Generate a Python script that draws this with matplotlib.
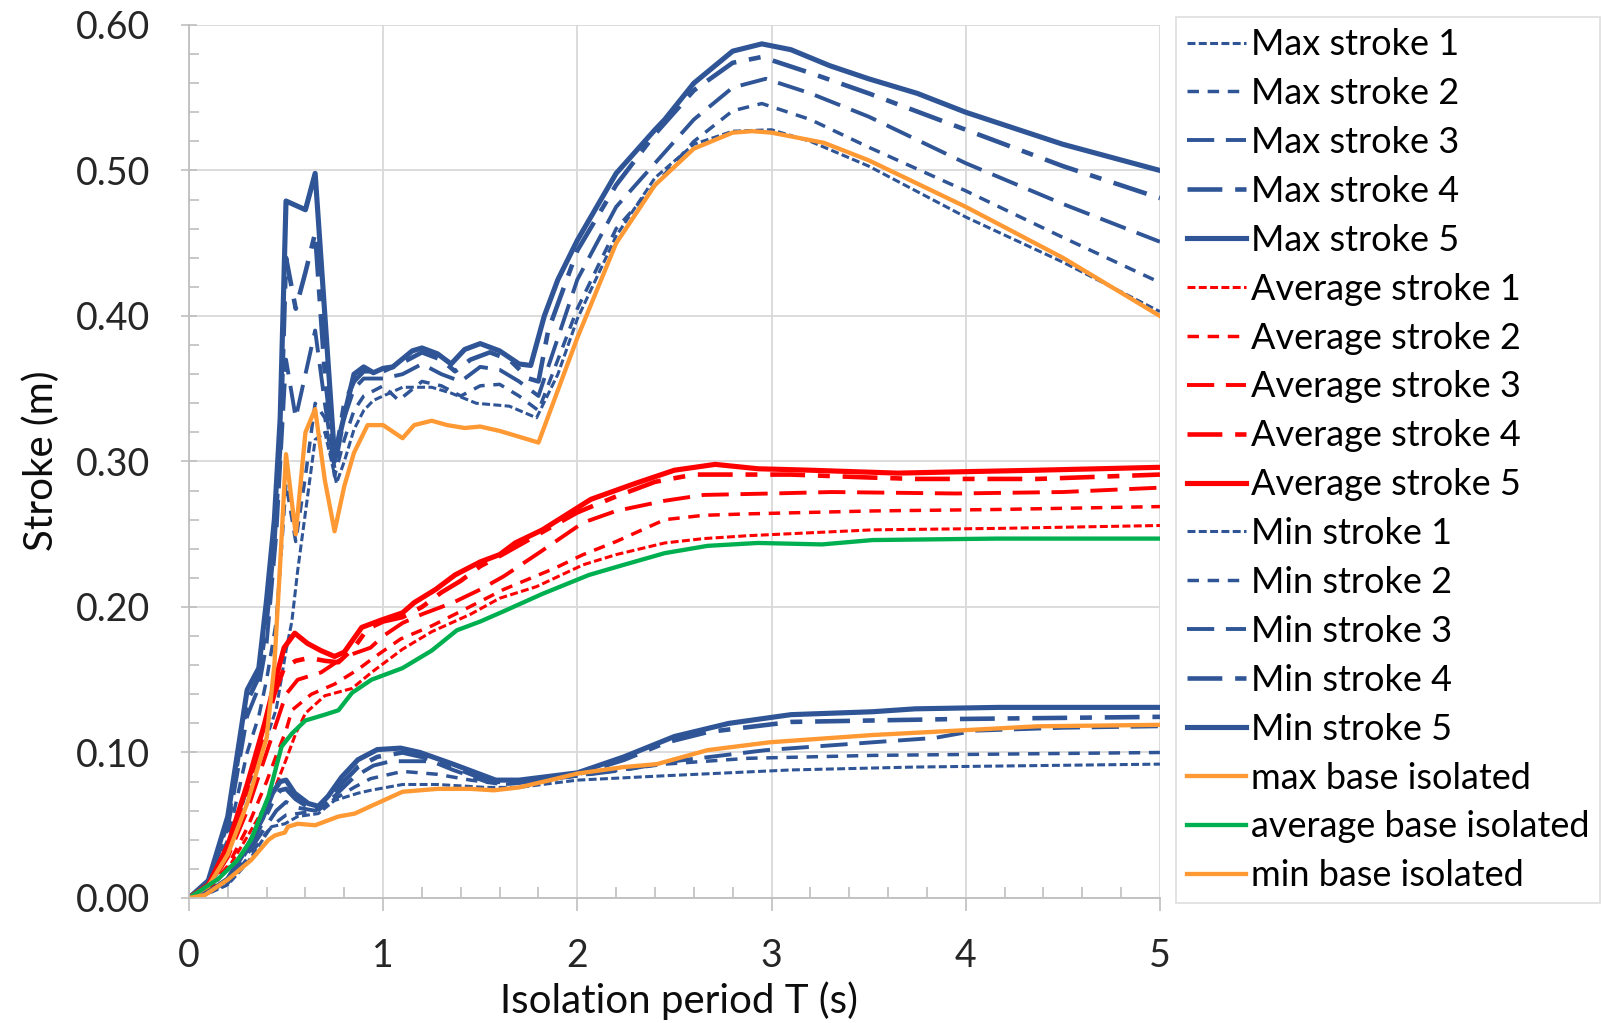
import matplotlib
matplotlib.use("Agg")
import matplotlib.pyplot as plt
from matplotlib.ticker import MultipleLocator, FormatStrFormatter

plt.rcParams["font.family"] = ["Lato", "DejaVu Sans"]

BLUE = "#2F5597"
RED = "#FF0000"
ORANGE = "#FF9933"
GREEN = "#00B050"

# ---- stroke envelopes, max ----
max1_T = [0, 0.1, 0.2, 0.3, 0.4, 0.45, 0.5, 0.53, 0.56, 0.6, 0.65, 0.7, 0.76, 0.8, 0.85, 0.9, 0.95, 1.0,
          1.1, 1.25, 1.35, 1.48, 1.65, 1.79, 1.9, 2.0, 2.2, 2.4, 2.6, 2.8, 3.0, 3.2, 3.5, 4.0, 4.5, 5.0]
max1 = [0, 0.006, 0.03, 0.075, 0.11, 0.13, 0.17, 0.19, 0.225, 0.265, 0.315, 0.32, 0.285, 0.30, 0.322, 0.335,
        0.342, 0.345, 0.351, 0.351, 0.347, 0.34, 0.338, 0.330, 0.36, 0.398, 0.455, 0.495, 0.518, 0.527, 0.528,
        0.52, 0.503, 0.468, 0.437, 0.403]

max2_T = [0, 0.1, 0.2, 0.3, 0.36, 0.4, 0.45, 0.5, 0.55, 0.6, 0.65, 0.7, 0.75, 0.8, 0.85, 0.9, 1.0, 1.08, 1.2,
          1.3, 1.4, 1.5, 1.6, 1.7, 1.8, 1.9, 2.0, 2.2, 2.4, 2.6, 2.8, 2.95, 3.2, 3.5, 4.0, 4.5, 5.0]
max2 = [0, 0.008, 0.04, 0.1, 0.125, 0.15, 0.19, 0.285, 0.245, 0.29, 0.34, 0.33, 0.29, 0.315, 0.335, 0.345,
        0.352, 0.342, 0.355, 0.352, 0.345, 0.352, 0.353, 0.345, 0.335, 0.37, 0.405, 0.46, 0.49, 0.52, 0.541,
        0.546, 0.535, 0.516, 0.486, 0.454, 0.423]

max3_T = [0, 0.1, 0.2, 0.3, 0.36, 0.40, 0.45, 0.5, 0.55, 0.6, 0.65, 0.7, 0.75, 0.8, 0.85, 0.9, 1.0, 1.1, 1.2,
          1.3, 1.4, 1.5, 1.6, 1.7, 1.8, 1.9, 2.0, 2.2, 2.4, 2.6, 2.8, 2.97, 3.2, 3.5, 4.0, 4.5, 5.0]
max3 = [0, 0.01, 0.048, 0.125, 0.145, 0.175, 0.25, 0.37, 0.33, 0.36, 0.39, 0.34, 0.295, 0.33, 0.35, 0.357,
        0.357, 0.36, 0.367, 0.36, 0.355, 0.365, 0.363, 0.355, 0.345, 0.385, 0.425, 0.475, 0.505, 0.535, 0.557,
        0.563, 0.553, 0.537, 0.505, 0.477, 0.451]

max4_T = [0, 0.1, 0.2, 0.3, 0.36, 0.40, 0.44, 0.47, 0.5, 0.55, 0.6, 0.65, 0.7, 0.75, 0.8, 0.85, 0.9, 1.0, 1.1,
          1.2, 1.3, 1.37, 1.45, 1.55, 1.65, 1.75, 1.8, 1.85, 2.0, 2.2, 2.4, 2.6, 2.8, 2.95, 3.2, 3.5, 4.0, 4.5, 5.0]
max4 = [0, 0.011, 0.052, 0.135, 0.152, 0.19, 0.245, 0.31, 0.44, 0.405, 0.43, 0.457, 0.36, 0.30, 0.34, 0.355,
        0.362, 0.362, 0.368, 0.375, 0.37, 0.362, 0.37, 0.375, 0.37, 0.357, 0.355, 0.39, 0.445, 0.49, 0.525,
        0.555, 0.574, 0.578, 0.567, 0.553, 0.528, 0.503, 0.481]

max5_T = [0, 0.1, 0.2, 0.3, 0.36, 0.40, 0.44, 0.47, 0.5, 0.6, 0.65, 0.75, 0.85, 0.9, 0.95, 1.0, 1.05, 1.15,
          1.2, 1.28, 1.35, 1.42, 1.5, 1.6, 1.7, 1.76, 1.83, 1.9, 2.0, 2.2, 2.4, 2.45, 2.6, 2.8, 2.95, 3.1, 3.3,
          3.5, 3.75, 4.0, 4.5, 5.0]
max5 = [0, 0.012, 0.056, 0.143, 0.158, 0.205, 0.26, 0.33, 0.479, 0.473, 0.498, 0.303, 0.36, 0.365, 0.361,
        0.364, 0.365, 0.376, 0.378, 0.374, 0.367, 0.377, 0.381, 0.376, 0.367, 0.366, 0.40, 0.425, 0.452, 0.498,
        0.528, 0.535, 0.560, 0.582, 0.587, 0.583, 0.572, 0.563, 0.553, 0.540, 0.518, 0.500]

# ---- stroke envelopes, average ----
avg1_T = [0, 0.1, 0.2, 0.3, 0.4, 0.45, 0.5, 0.55, 0.6, 0.7, 0.84, 0.94, 1.1, 1.25, 1.45, 1.6, 1.79, 2.03, 2.2,
          2.45, 2.65, 2.88, 3.52, 4.16, 5.0]
avg1 = [0, 0.005, 0.02, 0.042, 0.065, 0.078, 0.095, 0.113, 0.127, 0.139, 0.144, 0.155, 0.171, 0.183, 0.195,
        0.206, 0.214, 0.229, 0.236, 0.244, 0.247, 0.249, 0.253, 0.254, 0.256]

avg2_T = [0, 0.1, 0.2, 0.3, 0.4, 0.45, 0.5, 0.53, 0.63, 0.75, 0.87, 0.95, 1.09, 1.25, 1.4, 1.62, 1.89, 2.03,
          2.2, 2.45, 2.65, 2.88, 3.52, 4.16, 5.0]
avg2 = [0, 0.006, 0.022, 0.048, 0.08, 0.098, 0.115, 0.129, 0.14, 0.147, 0.157, 0.165, 0.178, 0.187, 0.197,
        0.212, 0.227, 0.236, 0.245, 0.26, 0.263, 0.264, 0.266, 0.267, 0.269]

avg3_T = [0, 0.1, 0.2, 0.3, 0.4, 0.45, 0.5, 0.56, 0.68, 0.77, 0.85, 0.935, 1.0, 1.1, 1.2, 1.36, 1.5, 1.62, 1.8,
          2.03, 2.2, 2.45, 2.65, 3.0, 3.31, 3.95, 4.5, 5.0]
avg3 = [0, 0.007, 0.028, 0.06, 0.1, 0.12, 0.14, 0.15, 0.155, 0.163, 0.168, 0.172, 0.18, 0.189, 0.195, 0.203,
        0.212, 0.221, 0.237, 0.258, 0.266, 0.273, 0.277, 0.278, 0.279, 0.278, 0.279, 0.282]

avg4_T = [0, 0.1, 0.2, 0.3, 0.39, 0.44, 0.49, 0.55, 0.62, 0.7, 0.77, 0.85, 0.92, 1.0, 1.1, 1.2, 1.3, 1.4, 1.5,
          1.6, 1.8, 2.0, 2.2, 2.4, 2.6, 2.8, 3.1, 3.5, 3.74, 4.0, 4.37, 5.0]
avg4 = [0, 0.008, 0.034, 0.074, 0.115, 0.14, 0.158, 0.163, 0.165, 0.163, 0.162, 0.172, 0.185, 0.19, 0.193, 0.2,
        0.21, 0.218, 0.228, 0.235, 0.25, 0.265, 0.276, 0.286, 0.291, 0.291, 0.291, 0.289, 0.288, 0.288, 0.288,
        0.291]

avg5_T = [0, 0.1, 0.2, 0.3, 0.39, 0.44, 0.49, 0.545, 0.61, 0.68, 0.75, 0.8, 0.89, 0.99, 1.1, 1.16, 1.27, 1.37,
          1.5, 1.6, 1.68, 1.82, 2.07, 2.3, 2.5, 2.71, 2.93, 3.2, 3.42, 3.65, 4.0, 4.37, 5.0]
avg5 = [0, 0.009, 0.036, 0.078, 0.12, 0.147, 0.172, 0.182, 0.175, 0.17, 0.166, 0.169, 0.186, 0.191, 0.196,
        0.203, 0.212, 0.222, 0.231, 0.236, 0.244, 0.253, 0.274, 0.285, 0.294, 0.298, 0.295, 0.294, 0.293, 0.292,
        0.293, 0.294, 0.296]

# ---- stroke envelopes, min ----
min1_T = [0, 0.1, 0.2, 0.3, 0.425, 0.494, 0.56, 0.666, 0.75, 0.87, 0.935, 1.1, 1.28, 1.53, 1.7, 2.0, 2.45, 3.1,
          3.74, 5.0]
min1 = [0, 0.003, 0.009, 0.024, 0.049, 0.051, 0.056, 0.058, 0.067, 0.072, 0.074, 0.078, 0.078, 0.076, 0.076,
        0.081, 0.084, 0.088, 0.09, 0.092]

min2_T = [0, 0.1, 0.2, 0.3, 0.4, 0.45, 0.5, 0.56, 0.65, 0.75, 0.85, 0.935, 1.1, 1.28, 1.45, 1.62, 1.8, 2.0,
          2.45, 2.88, 3.52, 5.0]
min2 = [0, 0.004, 0.01, 0.027, 0.045, 0.052, 0.057, 0.058, 0.06, 0.068, 0.076, 0.082, 0.087, 0.085, 0.081,
        0.078, 0.08, 0.084, 0.092, 0.096, 0.098, 0.1]

min3_T = [0, 0.1, 0.2, 0.3, 0.4, 0.45, 0.5, 0.56, 0.65, 0.75, 0.85, 0.95, 1.04, 1.25, 1.36, 1.53, 1.7, 2.0,
          2.24, 2.5, 2.97, 3.52, 3.84, 4.05, 4.5, 5.0]
min3 = [0, 0.004, 0.011, 0.03, 0.05, 0.06, 0.066, 0.062, 0.06, 0.07, 0.083, 0.091, 0.094, 0.094, 0.088, 0.080,
        0.079, 0.084, 0.088, 0.094, 0.1016, 0.107, 0.11, 0.115, 0.117, 0.118]

min4_T = [0, 0.1, 0.2, 0.3, 0.38, 0.43, 0.47, 0.5, 0.55, 0.62, 0.67, 0.72, 0.79, 0.87, 0.97, 1.1, 1.2, 1.36,
          1.55, 1.7, 2.0, 2.24, 2.46, 2.67, 3.1, 3.52, 3.95, 5.0]
min4 = [0, 0.004, 0.012, 0.033, 0.052, 0.066, 0.074, 0.075, 0.068, 0.062, 0.061, 0.066, 0.079, 0.09, 0.097,
        0.1, 0.097, 0.09, 0.08, 0.08, 0.085, 0.095, 0.107, 0.114, 0.121, 0.122, 0.123, 0.1245]

min5_T = [0, 0.1, 0.2, 0.3, 0.38, 0.43, 0.47, 0.5, 0.545, 0.614, 0.666, 0.717, 0.786, 0.87, 0.97, 1.09, 1.19,
          1.36, 1.58, 1.70, 2.0, 2.24, 2.5, 2.78, 3.1, 3.52, 3.74, 4.17, 5.0]
min5 = [0, 0.004, 0.013, 0.035, 0.055, 0.072, 0.08, 0.081, 0.072, 0.065, 0.063, 0.07, 0.083, 0.095, 0.102,
        0.103, 0.1, 0.092, 0.081, 0.081, 0.086, 0.097, 0.111, 0.12, 0.126, 0.128, 0.130, 0.131, 0.131]

# ---- conventional base isolation ----
bi_max_T = [0, 0.1, 0.2, 0.3, 0.4, 0.44, 0.47, 0.5, 0.55, 0.6, 0.65, 0.7, 0.75, 0.8, 0.85, 0.92, 1.0, 1.1,
            1.16, 1.25, 1.33, 1.42, 1.5, 1.6, 1.7, 1.8, 2.0, 2.2, 2.4, 2.6, 2.8, 2.9, 3.0, 3.27, 3.5, 4.0, 4.5, 5.0]
bi_max = [0, 0.008, 0.03, 0.065, 0.11, 0.16, 0.23, 0.305, 0.25, 0.32, 0.336, 0.287, 0.252, 0.283, 0.306,
          0.325, 0.325, 0.316, 0.325, 0.328, 0.325, 0.323, 0.324, 0.321, 0.317, 0.313, 0.385, 0.45, 0.49, 0.515,
          0.526, 0.527, 0.526, 0.519, 0.507, 0.475, 0.44, 0.40]

bi_avg_T = [0, 0.15, 0.25, 0.32, 0.41, 0.477, 0.53, 0.6, 0.7, 0.77, 0.84, 0.94, 1.1, 1.25, 1.38, 1.5, 1.62,
            1.82, 2.06, 2.24, 2.45, 2.67, 2.93, 3.26, 3.52, 4.16, 5.0]
bi_avg = [0, 0.013, 0.026, 0.04, 0.07, 0.104, 0.113, 0.122, 0.126, 0.129, 0.141, 0.15, 0.158, 0.17, 0.184,
          0.19, 0.197, 0.209, 0.222, 0.229, 0.237, 0.242, 0.244, 0.243, 0.246, 0.247, 0.247]

bi_min_T = [0, 0.082, 0.2, 0.32, 0.41, 0.443, 0.494, 0.51, 0.56, 0.65, 0.77, 0.854, 0.935, 1.1, 1.28, 1.45,
            1.57, 1.7, 1.86, 2.0, 2.24, 2.41, 2.67, 2.99, 3.52, 3.95, 4.37, 5.0]
bi_min = [0, 0.002, 0.0126, 0.026, 0.04, 0.043, 0.045, 0.049, 0.051, 0.05, 0.056, 0.058, 0.063, 0.073, 0.075,
          0.075, 0.074, 0.076, 0.081, 0.0855, 0.09, 0.092, 0.1016, 0.107, 0.112, 0.115, 0.118, 0.119]

# dash pattern (in linewidths) and width for strokes 1..5
styles = [
    ((0, (2.6, 1.1)), 2.2),
    ((0, (3.3, 2.5)), 2.5),
    ((0, (7.0, 3.0)), 2.8),
    ((0, (7.6, 2.8, 2.6, 2.8)), 3.3),
    ("-", 3.7),
]

fig = plt.figure(figsize=(16.01, 10.23), dpi=100)
ax = fig.add_axes([0.118, 0.1222, 0.6065, 0.8534])

groups = [
    ("Max stroke", BLUE, [(max1_T, max1), (max2_T, max2), (max3_T, max3), (max4_T, max4), (max5_T, max5)]),
    ("Average stroke", RED, [(avg1_T, avg1), (avg2_T, avg2), (avg3_T, avg3), (avg4_T, avg4), (avg5_T, avg5)]),
    ("Min stroke", BLUE, [(min1_T, min1), (min2_T, min2), (min3_T, min3), (min4_T, min4), (min5_T, min5)]),
]
for name, color, series in groups:
    for i, (t, s) in enumerate(series):
        ls, lw = styles[i]
        ax.plot(t, s, color=color, linestyle=ls, linewidth=lw, label=f"{name} {i + 1}",
                solid_joinstyle="round", dash_capstyle="butt")

ax.plot(bi_max_T, bi_max, color=ORANGE, lw=3.1, label="max base isolated", solid_joinstyle="round")
ax.plot(bi_avg_T, bi_avg, color=GREEN, lw=3.1, label="average base isolated", solid_joinstyle="round")
ax.plot(bi_min_T, bi_min, color=ORANGE, lw=3.1, label="min base isolated", solid_joinstyle="round")

ax.set_xlim(0, 5)
ax.set_ylim(0, 0.6)
ax.xaxis.set_major_locator(MultipleLocator(1))
ax.xaxis.set_minor_locator(MultipleLocator(0.2))
ax.yaxis.set_major_locator(MultipleLocator(0.1))
ax.yaxis.set_minor_locator(MultipleLocator(0.02))
ax.yaxis.set_major_formatter(FormatStrFormatter("%.2f"))

ax.grid(True, which="major", color="#D9D9D9", lw=1.3)
ax.set_axisbelow(True)
for side in ("top", "right"):
    ax.spines[side].set_visible(False)
for side in ("left", "bottom"):
    ax.spines[side].set_color("#BFBFBF")
    ax.spines[side].set_linewidth(1.3)

ax.tick_params(axis="x", which="major", direction="out", length=9, width=1.2, color="#BFBFBF",
               labelsize=27, labelcolor="#262626", pad=20)
ax.tick_params(axis="x", which="minor", direction="in", length=8, width=1.2, color="#BFBFBF")
ax.tick_params(axis="y", which="major", direction="inout", length=12, width=1.2, color="#BFBFBF",
               labelsize=27, labelcolor="#262626", pad=22)
ax.tick_params(axis="y", which="minor", direction="in", length=7, width=1.2, color="#BFBFBF")

fig.text(0.424, 0.0215, "Isolation period T (s)", ha="center", va="center", fontsize=29, color="#0D0D0D")
fig.text(0.0256, 0.55, "Stroke (m)", ha="center", va="center", rotation=90, fontsize=29, color="#0D0D0D")

leg = fig.legend(loc="upper left", bbox_to_anchor=(0.7345, 0.983), bbox_transform=fig.transFigure,
                 fontsize=26, handlelength=1.65, handletextpad=0.12, labelspacing=0.44,
                 borderpad=0.3, borderaxespad=0, fancybox=False, frameon=True)
leg.get_frame().set_edgecolor("#D9D9D9")
leg.get_frame().set_linewidth(1.3)

fig.savefig("out.png", dpi=100)
